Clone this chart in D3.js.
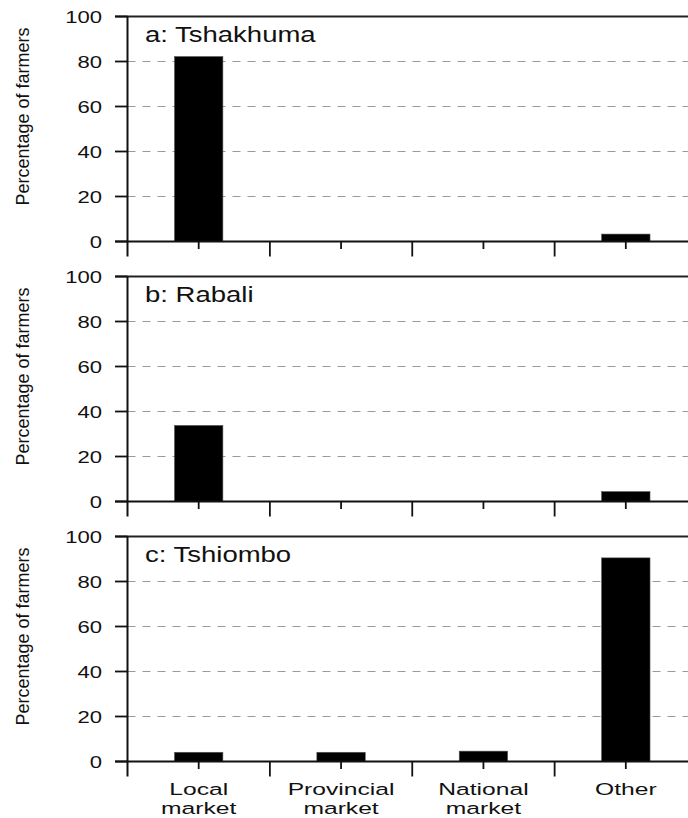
<!DOCTYPE html>
<html>
<head>
<meta charset="utf-8">
<script src="https://cdn.jsdelivr.net/npm/d3@7"></script>
<style>
  body { margin: 0; background: #fff; }
  text { font-family: "Liberation Sans", Arial, Helvetica, sans-serif; fill: #111; }
</style>
</head>
<body>
<svg id="chart" width="688" height="818"></svg>
<script>
// categories on the x axis (two text lines each)
var categories = ["Local market", "Provincial market", "National market", "Other"];
var catLines = [["Local", "market"], ["Provincial", "market"], ["National", "market"], ["Other", ""]];

// one series per village, percentage of farmers
var sites = ["a: Tshakhuma", "b: Rabali", "c: Tshiombo"];
var tshakhuma = [82.2, 0, 0, 3.3];
var rabali = [33.8, 0, 0, 4.4];
var tshiombo = [4.1, 4.1, 4.6, 90.5];
var seriesValues = [tshakhuma, rabali, tshiombo];

var yTicks = [0, 20, 40, 60, 80, 100];

var svg = d3.select("#chart"),
    width = 688,
    left = 127.5,
    panelH = 225,
    panelStep = 260,
    firstTop = 16.5;

var x = d3.scaleBand()
    .domain(categories)
    .range([left, 697])
    .paddingInner(0.66)
    .paddingOuter(0.33);

var step = x.step();

seriesValues.forEach(function(vals, p) {
  var top = firstTop + p * panelStep,
      zero = top + panelH;

  var y = d3.scaleLinear().domain([0, 100]).range([zero, top]);

  var g = svg.append("g").attr("class", "panel");

  // dashed grid
  g.selectAll(".grid")
      .data(yTicks.filter(function(d) { return d > 0 && d < 100; }))
    .enter().append("line")
      .attr("x1", left).attr("x2", width)
      .attr("y1", function(d) { return y(d); })
      .attr("y2", function(d) { return y(d); })
      .attr("stroke", "#9a9a9a")
      .attr("stroke-width", 1.2)
      .attr("stroke-dasharray", "8,7");

  // bars
  g.selectAll(".bar")
      .data(vals)
    .enter().append("rect")
      .attr("x", function(d, i) { return x(categories[i]); })
      .attr("width", x.bandwidth())
      .attr("y", function(d) { return y(d); })
      .attr("height", function(d) { return y(0) - y(d); })
      .attr("fill", "#000")
      .attr("stroke", "#555")
      .attr("stroke-width", 0.6);

  // frame: top border, bottom axis, left axis
  g.append("line")
      .attr("x1", left - 12.5).attr("x2", width)
      .attr("y1", y(100)).attr("y2", y(100))
      .attr("stroke", "#222").attr("stroke-width", 2);
  g.append("line")
      .attr("x1", left - 12.5).attr("x2", width)
      .attr("y1", y(0)).attr("y2", y(0))
      .attr("stroke", "#111").attr("stroke-width", 1.8);
  g.append("line")
      .attr("x1", left).attr("x2", left)
      .attr("y1", y(100)).attr("y2", y(0) + 15)
      .attr("stroke", "#111").attr("stroke-width", 2);

  // y ticks and labels
  g.selectAll(".ytick")
      .data(yTicks)
    .enter().append("line")
      .attr("x1", left - 12.5).attr("x2", left)
      .attr("y1", function(d) { return y(d); })
      .attr("y2", function(d) { return y(d); })
      .attr("stroke", "#111").attr("stroke-width", 1.8);

  g.selectAll(".ylab")
      .data(yTicks)
    .enter().append("text")
      .attr("transform", function(d) { return "translate(102," + (y(d) + 6.2) + ") scale(1.3,1)"; })
      .attr("text-anchor", "end")
      .style("font-size", "17px")
      .text(function(d) { return d; });

  // x ticks: short at band centres, long at band boundaries
  g.selectAll(".xtick")
      .data(categories)
    .enter().append("line")
      .attr("x1", function(d) { return x(d) + x.bandwidth() / 2; })
      .attr("x2", function(d) { return x(d) + x.bandwidth() / 2; })
      .attr("y1", y(0)).attr("y2", y(0) + 7.5)
      .attr("stroke", "#111").attr("stroke-width", 1.8);

  g.selectAll(".xbound")
      .data(d3.range(1, categories.length))
    .enter().append("line")
      .attr("x1", function(i) { return left + i * step; })
      .attr("x2", function(i) { return left + i * step; })
      .attr("y1", y(0)).attr("y2", y(0) + 15)
      .attr("stroke", "#111").attr("stroke-width", 1.8);

  // panel title
  g.append("text")
      .attr("transform", "translate(145," + (top + 25.5) + ") scale(1.25,1)")
      .style("font-size", "22px")
      .text(sites[p]);

  // y axis title
  g.append("text")
      .attr("transform", "translate(29," + (top + panelH / 2 - 12.5) + ") rotate(-90)")
      .attr("text-anchor", "middle")
      .style("font-size", "18px")
      .text("Percentage of farmers");

  // category labels under the last panel
  if (p === seriesValues.length - 1) {
    catLines.forEach(function(lines, i) {
      var cx = x(categories[i]) + x.bandwidth() / 2;
      lines.forEach(function(t, k) {
        if (!t) return;
        g.append("text")
            .attr("transform", "translate(" + cx + "," + (zero + 33.5 + k * 19) + ") scale(1.45,1)")
            .attr("text-anchor", "middle")
            .style("font-size", "17px")
            .text(t);
      });
    });
  }
});
</script>
</body>
</html>
